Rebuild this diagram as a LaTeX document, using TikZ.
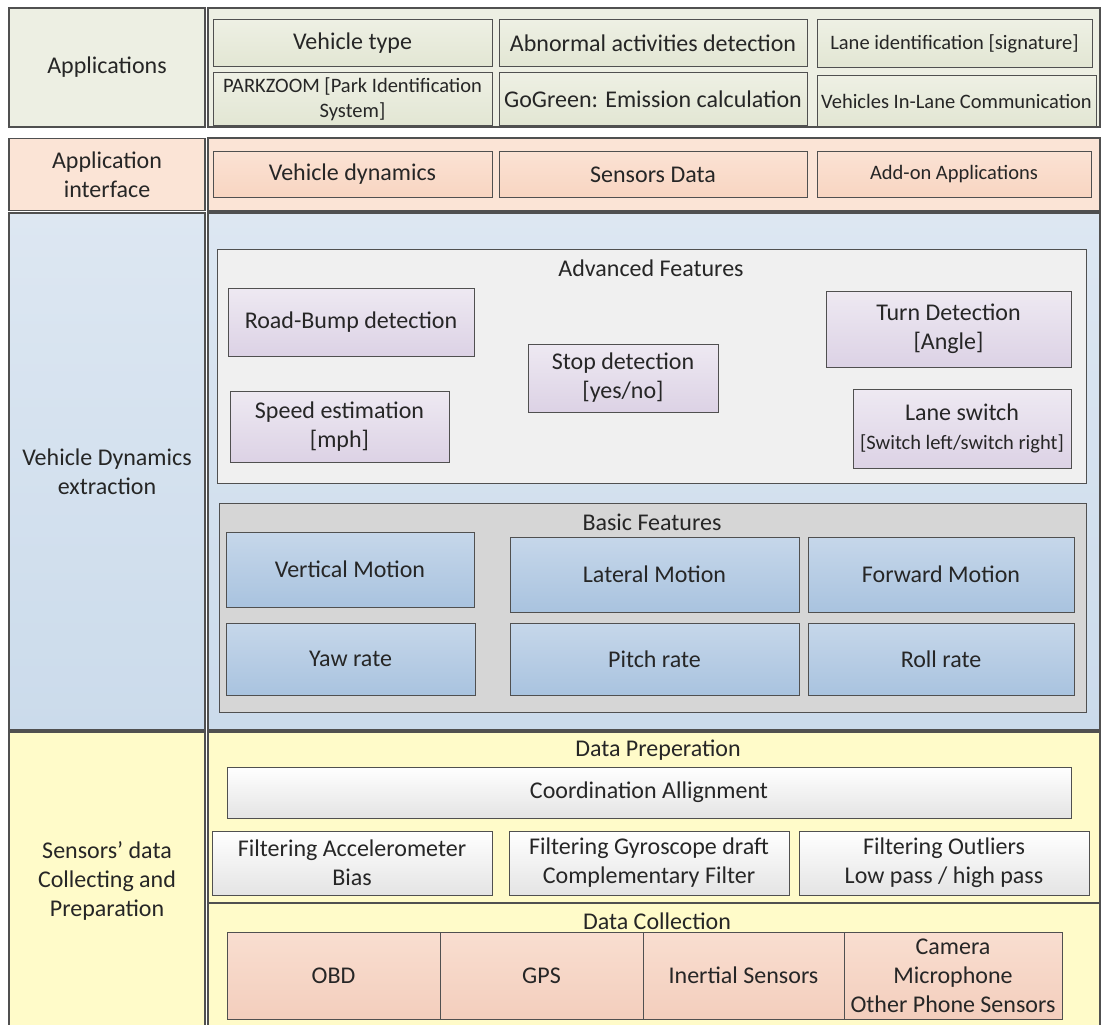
\documentclass[tikz,border=0pt]{standalone}
\usepackage{fontspec}
\setmainfont{Carlito}
\usetikzlibrary{positioning}

\definecolor{appbg}{HTML}{EDEFE3}
\definecolor{apptop}{HTML}{EEF0E4}
\definecolor{appbot}{HTML}{E2E6D3}
\definecolor{ifbg}{HTML}{FBE4D6}
\definecolor{iftop}{HTML}{FBE2D4}
\definecolor{ifbot}{HTML}{F8D5C1}
\definecolor{vdbg}{HTML}{DDE7F2}
\definecolor{vdbot}{HTML}{CBDBEB}
\definecolor{advbg}{HTML}{F0F0F0}
\definecolor{advtop}{HTML}{EEE9F2}
\definecolor{advbot}{HTML}{DCD2E5}
\definecolor{basicbg}{HTML}{D6D6D6}
\definecolor{bastop}{HTML}{C6D7EA}
\definecolor{basbot}{HTML}{A9C3DF}
\definecolor{sensbg}{HTML}{FFFBC9}
\definecolor{preptop}{HTML}{FFFFFF}
\definecolor{prepbot}{HTML}{E4E4E4}
\definecolor{colltop}{HTML}{F9DED0}
\definecolor{collbot}{HTML}{F3CEBD}
\definecolor{edge}{HTML}{505050}

\begin{document}
\begin{tikzpicture}[x=1pt, y=-1pt,
  every node/.style={font=\fontsize{24}{29}\selectfont, align=center, inner sep=0pt, text=black!85},
  wh/.style 2 args={minimum width=#1pt, minimum height=#2pt},
  frame/.style={draw=edge, line width=1.4pt},
  lblbox/.style={frame},
  box/.style={draw=edge, line width=1pt},
  appbox/.style={box, top color=apptop, bottom color=appbot},
  ifbox/.style={box, top color=iftop, bottom color=ifbot},
  advbox/.style={box, top color=advtop, bottom color=advbot},
  basbox/.style={box, top color=bastop, bottom color=basbot},
  prepbox/.style={box, top color=preptop, bottom color=prepbot},
  collbox/.style={box, top color=colltop, bottom color=collbot},
  small/.style={font=\fontsize{20.5}{25}\selectfont}
]
\useasboundingbox (0,0) rectangle (1103,1025);
\clip (0,0) rectangle (1103,1025);
\fill[white] (0,0) rectangle (1103,1025);

\node[lblbox, fill=appbg, wh={196}{119}] (applbl) at (107,67.5) {Applications};
\draw[frame, fill=appbg] (208,8) rectangle (1100,127);

\node[lblbox, fill=ifbg, wh={196}{72}] (iflbl) at (107,174.5) {Application\\interface};
\draw[frame, fill=ifbg] (208,138) rectangle (1100,211);

\node[lblbox, top color=vdbg, bottom color=vdbot, draw=edge, wh={196}{517}] (vdlbl) at (107,471.5) {Vehicle Dynamics\\extraction};
\draw[frame, top color=vdbg, bottom color=vdbot] (208,213) rectangle (1100,730);

\node[lblbox, fill=sensbg, wh={196}{298}] (senslbl) at (107,881) {Sensors' data\\Collecting and\\Preparation};
\draw[frame, fill=sensbg] (208,732) rectangle (1100,1030);

\node[appbox, wh={279}{47}] (vtype) at (352.5,43.5) {Vehicle type};
\node[appbox, wh={279}{52}, small] (park) at (352.5,99) {PARKZOOM [Park Identification\\System]};
\node[appbox, wh={308}{47}] (abn) at (653,43.5) {Abnormal activities detection};
\node[appbox, wh={308}{52}] (gogreen) at (653,99) {GoGreen: Emission calculation};
\node[appbox, wh={275}{48}, small] (laneid) at (954.5,44) {Lane identification [signature]};
\node[appbox, wh={279}{50}, small] (inlane) at (956.5,101) {Vehicles In-Lane Communication};

\node[ifbox, wh={279}{46}] (vdyn) at (352.5,174.5) {Vehicle dynamics};
\node[ifbox, wh={308}{46}] (sdata) at (653,174.5) {Sensors Data};
\node[ifbox, wh={274}{46}, small] (addon) at (954,174.5) {Add-on Applications};

\node[box, fill=advbg, wh={869}{234}] (adv) at (651.5,366) {};
\node (advtitle) at (651,268) {Advanced Features};
\node[advbox, wh={246}{68}] (bump) at (351,322) {Road-Bump detection};
\node[advbox, wh={219}{71}] (speed) at (339.5,426.5) {Speed estimation\\{[}mph{]}};
\node[advbox, wh={190}{68}] (stop) at (623,378) {Stop detection\\{[}yes/no{]}};
\node[advbox, wh={245}{76}] (turn) at (948.5,329) {Turn Detection\\{[}Angle{]}};
\node[advbox, wh={218}{79}] (lswitch) at (962,428.5) {Lane switch\\{\fontsize{20.5}{25}\selectfont[Switch left/switch right]}};

\node[box, fill=basicbg, wh={867}{209}] (basic) at (652.5,607.5) {};
\node (bastitle) at (652,522) {Basic Features};
\node[basbox, wh={248}{75}] (vert) at (350,569.5) {Vertical Motion};
\node[basbox, wh={249}{72}] (yaw) at (350.5,659) {Yaw rate};
\node[basbox, wh={289}{75}] (lat) at (654.5,574.5) {Lateral Motion};
\node[basbox, wh={289}{72}] (pitch) at (654.5,659) {Pitch rate};
\node[basbox, wh={266}{75}] (fwd) at (941,574.5) {Forward Motion};
\node[basbox, wh={266}{72}] (roll) at (941,659) {Roll rate};

\node (preptitle) at (658,750) {Data Preperation};
\node[prepbox, wh={844}{51}] (coord) at (649,792.5) {Coordination Allignment};
\node[prepbox, wh={280}{64}] (facc) at (352,863) {Filtering Accelerometer\\Bias};
\node[prepbox, wh={280}{64}] (fgyro) at (649,863) {Filtering Gyroscope draft\\Complementary Filter};
\node[prepbox, wh={290}{64}] (fout) at (944,863) {Filtering Outliers\\Low pass / high pass};
\coordinate (sepl) at (208,903);
\coordinate (sepr) at (1100,903);
\draw[frame] (sepl) -- (sepr);

\node (colltitle) at (657,921) {Data Collection};
\node[collbox, wh={213}{87}] (obd) at (333.5,975.5) {OBD};
\node[collbox, wh={203}{87}] (gps) at (541.5,975.5) {GPS};
\node[collbox, wh={201}{87}] (inert) at (743.5,975.5) {Inertial Sensors};
\node[collbox, wh={218}{87}] (camera) at (953,975.5) {Camera\\Microphone\\Other Phone Sensors};
\end{tikzpicture}
\end{document}
